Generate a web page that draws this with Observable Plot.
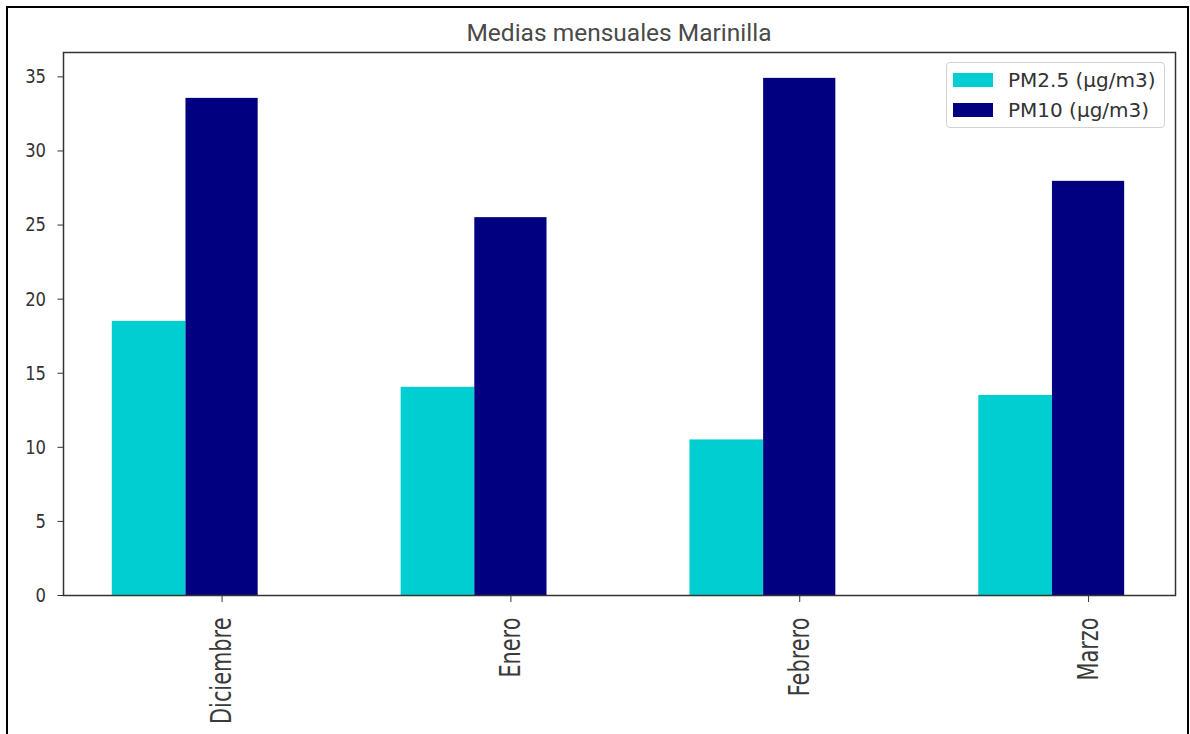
<!DOCTYPE html>
<html>
<head>
<meta charset="utf-8">
<script src="https://cdn.jsdelivr.net/npm/d3@7"></script>
<script src="https://cdn.jsdelivr.net/npm/@observablehq/plot@0.6"></script>
<style>
  html, body { margin: 0; padding: 0; background: #fff; }
  #page { position: relative; width: 1190px; height: 734px; overflow: hidden; background: #fff; }
  #chart { position: absolute; left: 0; top: 0; }
  #border { position: absolute; left: 6px; top: 6px; width: 1183px; height: 800px; border: 2px solid #000;
            box-sizing: border-box; pointer-events: none; }
  #title { position: absolute; left: 63px; width: 1112px; top: 18px; text-align: center;
           font-family: Roboto, "DejaVu Sans", sans-serif; font-size: 24.5px; color: #4a4a4a; line-height: 30px; }
  #legend { position: absolute; left: 946px; top: 62px; width: 219px; height: 66px; box-sizing: border-box;
            border: 1px solid #d2d2d2; border-radius: 4px; background: #fff;
            font-family: "DejaVu Sans", sans-serif; font-size: 20px; color: #333; }
  .item { position: absolute; left: 6px; height: 16px; display: flex; align-items: center; white-space: nowrap; }
  .sw { width: 40px; height: 14px; margin-right: 15px; }
</style>
</head>
<body>
<div id="page">
  <div id="chart"></div>
  <div id="title"></div>
  <div id="legend"></div>
  <div id="border"></div>
</div>
<script>
// Monthly means at the Marinilla station
const months = ["Diciembre", "Enero", "Febrero", "Marzo"];
const pm25 = [18.5, 14.05, 10.5, 13.5];
const pm10 = [33.55, 25.5, 34.9, 27.95];
const seriesNames = ["PM2.5 (µg/m3)", "PM10 (µg/m3)"];
const seriesColors = ["#00ced1", "#000080"];
const yTicks = [0, 5, 10, 15, 20, 25, 30, 35];
const title = "Medias mensuales Marinilla";

// Long table: one row per bar; the PM2.5 bar sits just left of the PM10 bar,
// which is centred on the month tick.
const barWidth = 0.25;
const rows = [];
months.forEach((m, i) => {
  rows.push({month: m, i, series: seriesNames[0], value: pm25[i], x1: i - 1.5 * barWidth - 0.005, x2: i - 0.5 * barWidth});
  rows.push({month: m, i, series: seriesNames[1], value: pm10[i], x1: i - 0.5 * barWidth, x2: i + 0.5 * barWidth});
});

const yMax = d3.max([...pm25, ...pm10]) * 1.05;

const chart = Plot.plot({
  width: 1190,
  height: 734,
  marginLeft: 63,
  marginRight: 15,
  marginTop: 52,
  marginBottom: 139,
  style: {fontFamily: "'DejaVu Sans', sans-serif", color: "#333", background: "#fff"},
  x: {domain: [-0.549, 3.301]},
  y: {domain: [0, yMax]},
  color: {domain: seriesNames, range: seriesColors},
  marks: [
    Plot.rectY(rows, {x1: "x1", x2: "x2", y: "value", fill: "series"}),
    Plot.axisY({ticks: yTicks, tickSize: 5.5, tickPadding: 12, fontSize: 20, label: null, stroke: "#333", fill: "#333"}),
    Plot.axisX({ticks: months.map((_, i) => i), tickFormat: i => months[i], tickSize: 7, tickPadding: 15,
                tickRotate: -90, fontSize: 28, label: null, stroke: "#333", fill: "#3a3a3a"}),
    Plot.frame({stroke: "#333", strokeWidth: 1.5})
  ]
});
document.getElementById("chart").append(chart);

// Narrow the tick-label glyphs horizontally (condensed look)
function condense(selector, k) {
  d3.select(chart).selectAll(selector).each(function () {
    const len = this.getComputedTextLength();
    this.setAttribute("textLength", len * k);
    this.setAttribute("lengthAdjust", "spacingAndGlyphs");
  });
}
condense('g[aria-label="y-axis tick label"] text', 0.82);
condense('g[aria-label="x-axis tick label"] text', 0.745);

document.getElementById("title").textContent = title;

const legend = document.getElementById("legend");
seriesNames.forEach((name, k) => {
  const item = document.createElement("div");
  item.className = "item";
  item.style.top = (9 + k * 30) + "px";
  const sw = document.createElement("div");
  sw.className = "sw";
  sw.style.background = seriesColors[k];
  const label = document.createElement("span");
  label.textContent = name;
  item.append(sw, label);
  legend.append(item);
});
</script>
</body>
</html>
